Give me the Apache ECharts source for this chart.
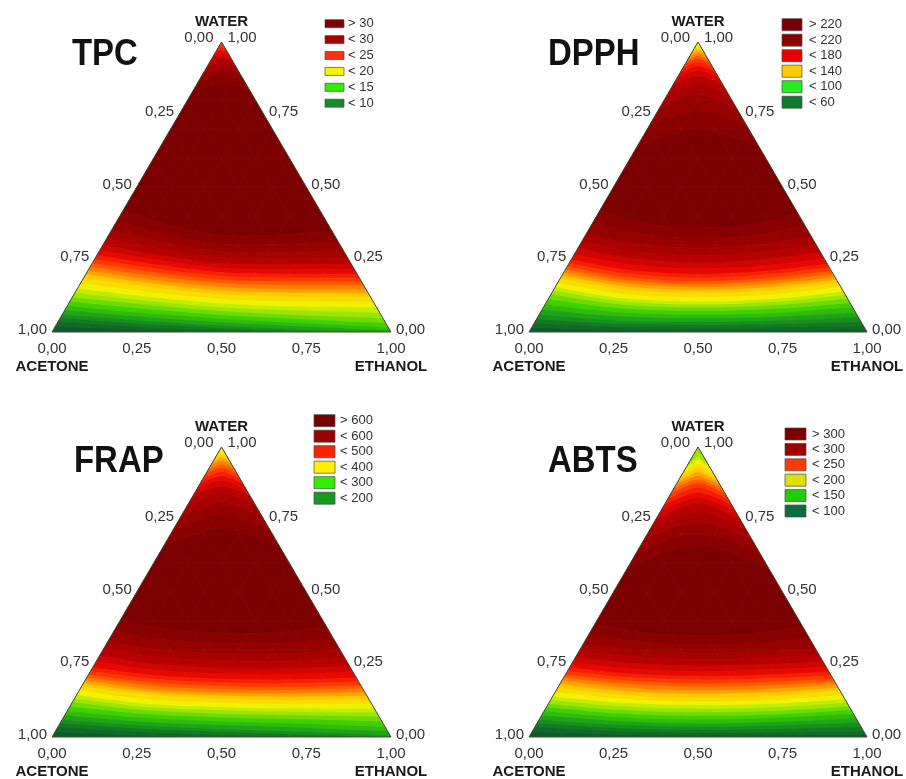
<!DOCTYPE html>
<html>
<head>
<meta charset="utf-8">
<script src="https://cdn.jsdelivr.net/npm/echarts@6/dist/echarts.min.js"></script>
<style>
  html, body { margin: 0; padding: 0; background: #ffffff; }
  #chart { width: 906px; height: 779px; }
</style>
</head>
<body>
<div id="chart"></div>
<script>
// Ternary response surfaces for four assays over acetone / ethanol / water mixtures.
// Each isoline is given as the water fraction at five positions along the organic
// axis: SHARE = ethanol / (acetone + ethanol), 0 on the acetone-water edge, 1 on the ethanol-water edge.
const SHARE = [0, 0.25, 0.5, 0.75, 1];

// Shared colour ramp, dark green (low) to maroon (high)
const RAMP = ['#0d5a2a', '#127a22', '#1ea418', '#3fd000', '#9ae600', '#f0f200', '#ffc800',
              '#ff8000', '#ff3800', '#e80800', '#b80000', '#960000', '#7c0000'];
const LEVEL_COUNT = 24;   // contour levels per surface (half of one ramp step apart)

const acetoneTicks = [0, 0.25, 0.5, 0.75, 1];
const waterTicks = [1, 0.75, 0.5, 0.25, 0];
const gridSteps = [0.1, 0.2, 0.3, 0.4, 0.5, 0.6, 0.7, 0.8, 0.9];
const vertexNames = ['WATER', 'ACETONE', 'ETHANOL'];
const titles = ['TPC', 'DPPH', 'FRAP', 'ABTS'];

// ---------- TPC ----------
const tpcRange = [5, 35];
const tpcLegendLabels = ['> 30', '< 30', '< 25', '< 20', '< 15', '< 10'];
const tpcLegendColors = ['#7d0000', '#a80000', '#ff3010', '#f5f500', '#30f000', '#148c28'];
const tpcRiseLevels = [6.25, 7.5, 8.75, 10, 11.25, 12.5, 13.75, 15, 16.25, 17.5, 18.75, 20,
                       21.25, 22.5, 23.75, 25, 26.25, 27.5, 28.75, 30, 31.25, 32.5, 33.75, 35];
const tpcRiseWater = [
  [0.020, 0.008, 0.000, 0.000, 0.000],
  [0.036, 0.018, 0.006, 0.000, 0.000],
  [0.048, 0.029, 0.014, 0.003, 0.000],
  [0.060, 0.040, 0.022, 0.008, 0.000],
  [0.075, 0.053, 0.034, 0.019, 0.006],
  [0.090, 0.066, 0.046, 0.030, 0.015],
  [0.105, 0.080, 0.059, 0.044, 0.031],
  [0.120, 0.095, 0.072, 0.058, 0.048],
  [0.135, 0.108, 0.085, 0.073, 0.066],
  [0.150, 0.122, 0.098, 0.088, 0.085],
  [0.168, 0.139, 0.114, 0.105, 0.102],
  [0.185, 0.155, 0.130, 0.122, 0.120],
  [0.199, 0.168, 0.143, 0.135, 0.134],
  [0.212, 0.180, 0.155, 0.148, 0.147],
  [0.225, 0.193, 0.168, 0.161, 0.160],
  [0.238, 0.206, 0.180, 0.174, 0.173],
  [0.251, 0.219, 0.193, 0.187, 0.186],
  [0.265, 0.233, 0.206, 0.200, 0.200],
  [0.282, 0.249, 0.221, 0.216, 0.217],
  [0.300, 0.265, 0.237, 0.233, 0.235],
  [0.323, 0.286, 0.256, 0.253, 0.256],
  [0.350, 0.310, 0.277, 0.275, 0.280],
  [0.382, 0.338, 0.303, 0.303, 0.312],
  [0.420, 0.370, 0.334, 0.335, 0.350]
];
const tpcCapLevels = [35, 33.75, 32.5, 31.25, 30, 28.75, 27.5, 26.25];
const tpcCapWater = [
  [0.830, 0.850, 0.860, 0.850, 0.830],
  [0.870, 0.885, 0.890, 0.885, 0.870],
  [0.895, 0.905, 0.910, 0.905, 0.895],
  [0.915, 0.925, 0.930, 0.925, 0.915],
  [0.935, 0.942, 0.945, 0.942, 0.935],
  [0.952, 0.957, 0.960, 0.957, 0.952],
  [0.966, 0.970, 0.972, 0.970, 0.966],
  [0.978, 0.981, 0.983, 0.981, 0.978]
];

// ---------- DPPH ----------
const dpphRange = [20, 260];
const dpphLegendLabels = ['> 220', '< 220', '< 180', '< 140', '< 100', '< 60'];
const dpphLegendColors = ['#780000', '#8c0000', '#e80000', '#ffcc00', '#22ee22', '#107a30'];
const dpphRiseLevels = [30, 40, 50, 60, 70, 80, 90, 100, 110, 120, 130, 140,
                        150, 160, 170, 180, 190, 200, 210, 220, 230, 240, 250, 260];
const dpphRiseWater = [
  [0.015, 0.008, 0.006, 0.007, 0.008],
  [0.030, 0.018, 0.015, 0.017, 0.020],
  [0.045, 0.029, 0.025, 0.028, 0.035],
  [0.060, 0.040, 0.035, 0.040, 0.050],
  [0.078, 0.054, 0.047, 0.053, 0.067],
  [0.095, 0.068, 0.060, 0.066, 0.085],
  [0.113, 0.082, 0.073, 0.080, 0.100],
  [0.130, 0.095, 0.085, 0.093, 0.115],
  [0.143, 0.106, 0.095, 0.104, 0.128],
  [0.155, 0.116, 0.105, 0.114, 0.140],
  [0.170, 0.131, 0.120, 0.129, 0.155],
  [0.185, 0.146, 0.135, 0.144, 0.170],
  [0.195, 0.157, 0.145, 0.155, 0.180],
  [0.205, 0.167, 0.155, 0.165, 0.190],
  [0.215, 0.178, 0.165, 0.176, 0.200],
  [0.225, 0.188, 0.175, 0.186, 0.210],
  [0.237, 0.200, 0.187, 0.198, 0.222],
  [0.250, 0.213, 0.200, 0.210, 0.235],
  [0.268, 0.232, 0.219, 0.229, 0.254],
  [0.290, 0.253, 0.240, 0.250, 0.275],
  [0.313, 0.277, 0.264, 0.274, 0.301],
  [0.340, 0.303, 0.290, 0.300, 0.330],
  [0.378, 0.337, 0.323, 0.333, 0.368],
  [0.420, 0.375, 0.360, 0.370, 0.410]
];
const dpphCapLevels = [260, 250, 240, 230, 220, 210, 200, 190, 180, 170, 160, 150, 140, 130];
const dpphCapWater = [
  [0.640, 0.680, 0.700, 0.680, 0.640],
  [0.710, 0.750, 0.765, 0.750, 0.710],
  [0.770, 0.805, 0.820, 0.805, 0.770],
  [0.815, 0.845, 0.856, 0.845, 0.815],
  [0.850, 0.873, 0.883, 0.873, 0.850],
  [0.873, 0.893, 0.902, 0.893, 0.873],
  [0.893, 0.910, 0.917, 0.910, 0.893],
  [0.910, 0.925, 0.930, 0.925, 0.910],
  [0.925, 0.937, 0.942, 0.937, 0.925],
  [0.938, 0.948, 0.952, 0.948, 0.938],
  [0.950, 0.958, 0.962, 0.958, 0.950],
  [0.960, 0.967, 0.970, 0.967, 0.960],
  [0.970, 0.975, 0.978, 0.975, 0.970],
  [0.980, 0.984, 0.986, 0.984, 0.980]
];

// ---------- FRAP ----------
const frapRange = [100, 700];
const frapLegendLabels = ['> 600', '< 600', '< 500', '< 400', '< 300', '< 200'];
const frapLegendColors = ['#780000', '#9a0000', '#ff2000', '#fff000', '#33ee00', '#169a20'];
const frapRiseLevels = [125, 150, 175, 200, 225, 250, 275, 300, 325, 350, 375, 400,
                        425, 450, 475, 500, 525, 550, 575, 600, 625, 650, 675, 700];
const frapRiseWater = [
  [0.018, 0.006, 0.000, 0.000, 0.000],
  [0.035, 0.018, 0.008, 0.002, 0.000],
  [0.048, 0.029, 0.018, 0.009, 0.000],
  [0.060, 0.040, 0.028, 0.018, 0.005],
  [0.075, 0.053, 0.041, 0.032, 0.020],
  [0.090, 0.066, 0.054, 0.046, 0.035],
  [0.105, 0.080, 0.067, 0.061, 0.053],
  [0.120, 0.093, 0.080, 0.075, 0.070],
  [0.133, 0.104, 0.092, 0.087, 0.085],
  [0.145, 0.115, 0.103, 0.098, 0.098],
  [0.160, 0.130, 0.118, 0.113, 0.114],
  [0.175, 0.145, 0.133, 0.128, 0.130],
  [0.185, 0.155, 0.143, 0.139, 0.142],
  [0.195, 0.165, 0.153, 0.150, 0.155],
  [0.205, 0.177, 0.165, 0.162, 0.167],
  [0.215, 0.188, 0.176, 0.173, 0.178],
  [0.228, 0.200, 0.188, 0.185, 0.191],
  [0.240, 0.213, 0.201, 0.198, 0.205],
  [0.260, 0.231, 0.219, 0.217, 0.225],
  [0.280, 0.250, 0.238, 0.236, 0.245],
  [0.305, 0.275, 0.263, 0.261, 0.272],
  [0.330, 0.300, 0.288, 0.287, 0.300],
  [0.365, 0.335, 0.323, 0.323, 0.340],
  [0.400, 0.370, 0.358, 0.360, 0.380]
];
const frapCapLevels = [700, 675, 650, 625, 600, 575, 550, 525, 500, 475, 450, 425, 400, 375];
const frapCapWater = [
  [0.660, 0.700, 0.720, 0.700, 0.660],
  [0.715, 0.750, 0.770, 0.750, 0.715],
  [0.760, 0.795, 0.810, 0.795, 0.760],
  [0.800, 0.828, 0.840, 0.828, 0.800],
  [0.830, 0.855, 0.865, 0.855, 0.830],
  [0.853, 0.875, 0.884, 0.875, 0.853],
  [0.872, 0.892, 0.900, 0.892, 0.872],
  [0.890, 0.908, 0.915, 0.908, 0.890],
  [0.906, 0.922, 0.928, 0.922, 0.906],
  [0.921, 0.935, 0.940, 0.935, 0.921],
  [0.935, 0.947, 0.952, 0.947, 0.935],
  [0.948, 0.958, 0.963, 0.958, 0.948],
  [0.960, 0.968, 0.972, 0.968, 0.960],
  [0.972, 0.978, 0.981, 0.978, 0.972]
];

// ---------- ABTS ----------
const abtsRange = [50, 350];
const abtsLegendLabels = ['> 300', '< 300', '< 250', '< 200', '< 150', '< 100'];
const abtsLegendColors = ['#780000', '#9c0000', '#ff3c00', '#dde000', '#22cc00', '#0c6e3c'];
const abtsRiseLevels = [62.5, 75, 87.5, 100, 112.5, 125, 137.5, 150, 162.5, 175, 187.5, 200,
                        212.5, 225, 237.5, 250, 262.5, 275, 287.5, 300, 312.5, 325, 337.5, 350];
const abtsRiseWater = [
  [0.018, 0.009, 0.006, 0.007, 0.009],
  [0.035, 0.020, 0.015, 0.016, 0.020],
  [0.048, 0.031, 0.025, 0.028, 0.035],
  [0.060, 0.042, 0.035, 0.040, 0.050],
  [0.075, 0.055, 0.047, 0.053, 0.065],
  [0.090, 0.068, 0.060, 0.066, 0.080],
  [0.103, 0.081, 0.073, 0.078, 0.093],
  [0.115, 0.093, 0.085, 0.090, 0.105],
  [0.128, 0.106, 0.098, 0.103, 0.118],
  [0.140, 0.118, 0.110, 0.115, 0.130],
  [0.155, 0.131, 0.122, 0.128, 0.145],
  [0.170, 0.145, 0.135, 0.142, 0.160],
  [0.183, 0.158, 0.148, 0.154, 0.170],
  [0.195, 0.170, 0.160, 0.166, 0.180],
  [0.205, 0.182, 0.173, 0.178, 0.190],
  [0.215, 0.194, 0.185, 0.190, 0.200],
  [0.228, 0.206, 0.197, 0.202, 0.212],
  [0.240, 0.218, 0.210, 0.215, 0.225],
  [0.257, 0.235, 0.227, 0.232, 0.242],
  [0.275, 0.254, 0.245, 0.250, 0.260],
  [0.297, 0.276, 0.267, 0.272, 0.282],
  [0.320, 0.300, 0.290, 0.295, 0.305],
  [0.352, 0.328, 0.318, 0.324, 0.340],
  [0.390, 0.360, 0.350, 0.357, 0.380]
];
const abtsCapLevels = [350, 337.5, 325, 312.5, 300, 287.5, 275, 262.5,
                       250, 237.5, 225, 212.5, 200, 187.5, 175, 162.5];
const abtsCapWater = [
  [0.580, 0.640, 0.660, 0.640, 0.580],
  [0.630, 0.685, 0.700, 0.685, 0.630],
  [0.680, 0.725, 0.740, 0.725, 0.680],
  [0.720, 0.760, 0.775, 0.760, 0.720],
  [0.750, 0.790, 0.805, 0.790, 0.750],
  [0.777, 0.812, 0.825, 0.812, 0.777],
  [0.800, 0.830, 0.842, 0.830, 0.800],
  [0.820, 0.848, 0.860, 0.848, 0.820],
  [0.840, 0.865, 0.876, 0.865, 0.840],
  [0.856, 0.878, 0.888, 0.878, 0.856],
  [0.870, 0.890, 0.900, 0.890, 0.870],
  [0.883, 0.903, 0.914, 0.903, 0.883],
  [0.895, 0.915, 0.928, 0.915, 0.895],
  [0.910, 0.930, 0.942, 0.930, 0.910],
  [0.925, 0.945, 0.956, 0.945, 0.925],
  [0.940, 0.958, 0.968, 0.958, 0.940]
];

const PANELS = [
  { range: tpcRange, legendLabels: tpcLegendLabels, legendColors: tpcLegendColors,
    riseLevels: tpcRiseLevels, riseWater: tpcRiseWater, capLevels: tpcCapLevels, capWater: tpcCapWater },
  { range: dpphRange, legendLabels: dpphLegendLabels, legendColors: dpphLegendColors,
    riseLevels: dpphRiseLevels, riseWater: dpphRiseWater, capLevels: dpphCapLevels, capWater: dpphCapWater },
  { range: frapRange, legendLabels: frapLegendLabels, legendColors: frapLegendColors,
    riseLevels: frapRiseLevels, riseWater: frapRiseWater, capLevels: frapCapLevels, capWater: frapCapWater },
  { range: abtsRange, legendLabels: abtsLegendLabels, legendColors: abtsLegendColors,
    riseLevels: abtsRiseLevels, riseWater: abtsRiseWater, capLevels: abtsCapLevels, capWater: abtsCapWater }
];

// Page layout of the four panels
const LAYOUT = [
  { grid: { left: 52, top: 42, width: 339, height: 290 }, title: { x: 72, y: 55 },
    legend: { x: 325, y: 23.7, w: 19, h: 8, step: 15.9, tx: 348 } },
  { grid: { left: 529, top: 42, width: 338, height: 290 }, title: { x: 548, y: 55 },
    legend: { x: 782, y: 24.7, w: 20, h: 12, step: 15.5, tx: 809 } },
  { grid: { left: 52, top: 447, width: 339, height: 290 }, title: { x: 74, y: 462 },
    legend: { x: 314, y: 420.7, w: 21, h: 12, step: 15.5, tx: 340 } },
  { grid: { left: 529, top: 447, width: 338, height: 290 }, title: { x: 548, y: 462 },
    legend: { x: 785, y: 434, w: 21, h: 12, step: 15.4, tx: 812 } }
];

const FONT = '"Liberation Sans", Arial, Helvetica, sans-serif';
const TEXT = '#333333';
const fmt = v => v.toFixed(2).replace('.', ',');

// (share, water) -> cartesian point of the triangle: base runs x 0..1, apex at (0.5, 1)
function toXY(s, w) { return [(1 - w) * s + w / 2, w]; }

// Smooth cubic path through pixel points (Catmull-Rom tangents)
function curveThrough(p) {
  let d = '';
  for (let i = 0; i < p.length - 1; i++) {
    const p0 = p[i - 1] || p[i], p1 = p[i], p2 = p[i + 1], p3 = p[i + 2] || p[i + 1];
    const c1 = [p1[0] + (p2[0] - p0[0]) / 6, p1[1] + (p2[1] - p0[1]) / 6];
    const c2 = [p2[0] - (p3[0] - p1[0]) / 6, p2[1] - (p3[1] - p1[1]) / 6];
    d += ' C' + c1[0] + ',' + c1[1] + ' ' + c2[0] + ',' + c2[1] + ' ' + p2[0] + ',' + p2[1];
  }
  return d;
}

function trianglePts(api) { return [api.coord([0, 0]), api.coord([1, 0]), api.coord([0.5, 1])]; }

// Region on the apex side of one isoline, filled with the visualMap colour of its level
function renderRegion(params, api) {
  const pts = SHARE.map((s, k) => api.coord(toXY(s, api.value(k + 1))));
  const apex = api.coord([0.5, 1]);
  const curve = curveThrough(pts);
  const start = 'M' + pts[0][0] + ',' + pts[0][1];
  return {
    type: 'group',
    clipPath: { type: 'polygon', shape: { points: trianglePts(api) } },
    children: [
      { type: 'path', shape: { pathData: start + curve + ' L' + apex[0] + ',' + apex[1] + ' Z' },
        style: { fill: api.visual('color') } },
      { type: 'path', shape: { pathData: start + curve },
        style: { fill: 'none', stroke: 'rgba(255,255,255,0.045)', lineWidth: 0.6 } }
    ]
  };
}

function renderBase(params, api) {
  return { type: 'polygon', shape: { points: trianglePts(api) }, style: { fill: RAMP[0] } };
}

function renderGrid(params, api) {
  const f = api.value(0);
  const seg = (a, b) => ({ type: 'line', shape: { x1: a[0], y1: a[1], x2: b[0], y2: b[1] },
    style: { stroke: 'rgba(255,255,255,0.035)', lineWidth: 0.7 } });
  const children = [
    seg(api.coord([f / 2, f]), api.coord([1 - f / 2, f])),
    seg(api.coord([f, 0]), api.coord([f + (1 - f) / 2, 1 - f])),
    seg(api.coord([1 - f, 0]), api.coord([(1 - f) / 2, 1 - f]))
  ];
  if (params.dataIndex === 0) {
    children.push({ type: 'polygon', shape: { points: trianglePts(api) },
      style: { fill: 'none', stroke: '#4a4a3a', lineWidth: 1 } });
  }
  return { type: 'group', children };
}

function renderTicks(params, api) {
  const side = api.value(0), v = api.value(1);
  let p, align, dx, dy;
  if (side === 0) {            // acetone, along the left edge
    const w = 1 - v;
    p = api.coord([w / 2, w]); align = 'right';
    dx = v === 0 ? -8 : -5; dy = v === 0 ? -4 : -2.5;
  } else {                     // water, along the right edge
    const w = v;
    p = api.coord([1 - w / 2, w]); align = 'left';
    dx = w === 1 ? 6 : 5; dy = w === 1 ? -4 : -2.5;
  }
  return { type: 'text', x: p[0] + dx, y: p[1] + dy,
    style: { text: fmt(v), fill: TEXT, font: '15px ' + FONT, align, verticalAlign: 'middle' } };
}

function renderNames(params, api) {
  const p = api.coord([api.value(0), api.value(1)]);
  const top = params.dataIndex === 0;
  return { type: 'text', x: p[0], y: p[1] + (top ? -20 : 35),
    style: { text: vertexNames[params.dataIndex], fill: '#1a1a1a', font: 'bold 15px ' + FONT,
      align: 'center', verticalAlign: 'middle' } };
}

const grid = [], xAxis = [], yAxis = [], series = [], visualMap = [], graphic = [];

PANELS.forEach((P, i) => {
  const L = LAYOUT[i];
  grid.push(L.grid);
  xAxis.push({ gridIndex: i, type: 'value', min: 0, max: 1, interval: 0.25,
    axisLine: { show: false }, axisTick: { show: false }, splitLine: { show: false },
    axisLabel: { formatter: fmt, fontSize: 15, fontFamily: FONT, color: TEXT, margin: 9,
      showMinLabel: true, showMaxLabel: true } });
  yAxis.push({ gridIndex: i, type: 'value', min: 0, max: 1, show: false });

  const base = { coordinateSystem: 'cartesian2d', xAxisIndex: i, yAxisIndex: i, silent: true };
  const first = series.length;
  series.push(Object.assign({ type: 'custom', name: titles[i] + ' base', z: 1, renderItem: renderBase, data: [[0, 0]] }, base));
  series.push(Object.assign({ type: 'custom', name: titles[i] + ' rise', z: 2, renderItem: renderRegion,
    dimensions: ['level', 'w0', 'w1', 'w2', 'w3', 'w4'],
    data: P.riseLevels.map((lv, k) => [lv].concat(P.riseWater[k])) }, base));
  series.push(Object.assign({ type: 'custom', name: titles[i] + ' cap', z: 3, renderItem: renderRegion,
    dimensions: ['level', 'w0', 'w1', 'w2', 'w3', 'w4'],
    data: P.capLevels.map((lv, k) => [lv].concat(P.capWater[k])) }, base));
  series.push(Object.assign({ type: 'custom', name: titles[i] + ' grid', z: 4, renderItem: renderGrid,
    data: gridSteps.map(f => [f, 0]) }, base));
  series.push(Object.assign({ type: 'custom', name: titles[i] + ' ticks', z: 6, renderItem: renderTicks,
    data: acetoneTicks.map(v => [0, v]).concat(waterTicks.map(v => [1, v])) }, base));
  series.push(Object.assign({ type: 'custom', name: titles[i] + ' vertices', z: 6, renderItem: renderNames,
    data: [[0.5, 1], [0, 0], [1, 0]] }, base));

  const [lo, hi] = P.range;
  const d = (hi - lo) / LEVEL_COUNT;
  // a rising isoline paints the band just above its level; a cap paints the band just below
  visualMap.push({ type: 'continuous', show: false, seriesIndex: first + 1, dimension: 0,
    min: lo, max: hi, inRange: { color: RAMP } });
  visualMap.push({ type: 'continuous', show: false, seriesIndex: first + 2, dimension: 0,
    min: lo + d, max: hi + d, inRange: { color: RAMP } });

  graphic.push({ type: 'text', x: L.title.x, y: L.title.y, scaleX: 0.89, silent: true,
    style: { text: titles[i], font: 'bold 37px ' + FONT, fill: '#111', align: 'left', verticalAlign: 'middle' } });

  const lg = L.legend;
  const children = [];
  P.legendLabels.forEach((lab, k) => {
    const cy = lg.y + k * lg.step;
    children.push({ type: 'rect', shape: { x: lg.x, y: cy - lg.h / 2, width: lg.w, height: lg.h },
      style: { fill: P.legendColors[k], stroke: '#4a4a4a', lineWidth: 0.7 } });
    children.push({ type: 'text', x: lg.tx, y: cy,
      style: { text: lab, font: '13px ' + FONT, fill: TEXT, align: 'left', verticalAlign: 'middle' } });
  });
  graphic.push({ type: 'group', silent: true, children });
});

const chart = echarts.init(document.getElementById('chart'), null, { renderer: 'canvas' });
chart.setOption({
  animation: false,
  backgroundColor: '#ffffff',
  grid, xAxis, yAxis, series, visualMap, graphic
});
</script>
</body>
</html>
